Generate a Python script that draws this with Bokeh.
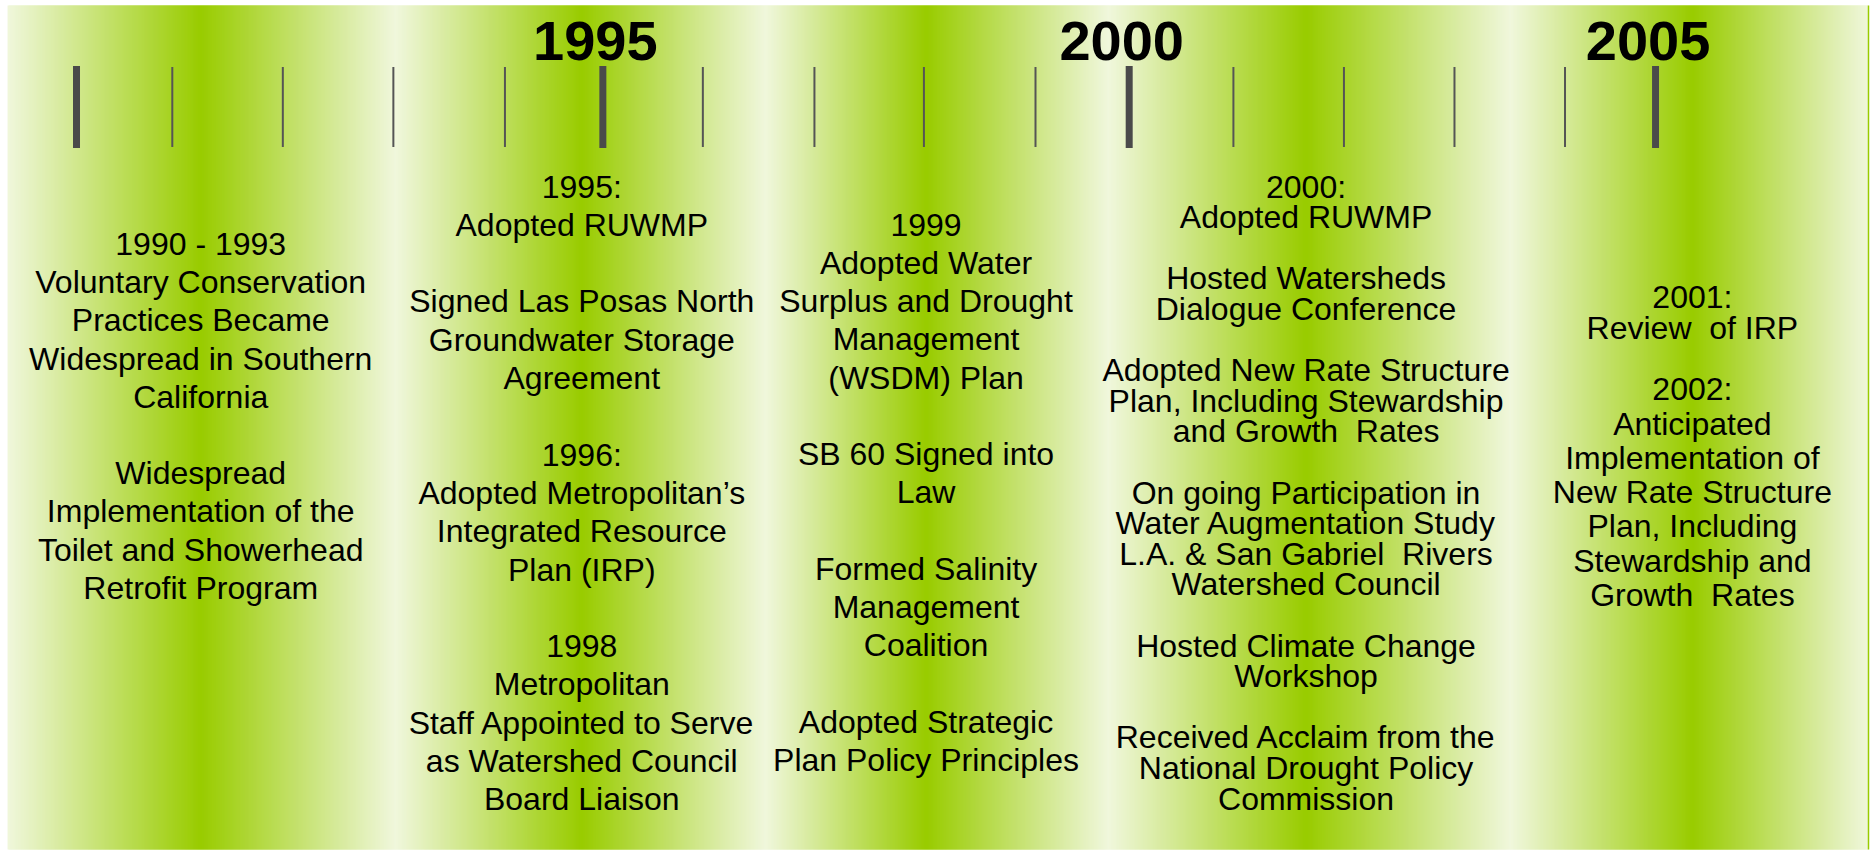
import numpy as np
from bokeh.plotting import figure
from bokeh.models import Range1d, ColumnDataSource
from bokeh.core.properties import value
from bokeh.embed import file_html
from bokeh.resources import INLINE

# ---------------- data ----------------
major_years = [1990, 1995, 2000, 2005]
major_labels = ["1995", "2000", "2005"]          # 1990 tick is unlabeled
labeled_years = [1995, 2000, 2005]
# minor tick marks as drawn between the major years
minor_ticks = [1990.91, 1991.96, 1993.01, 1994.07,
               1995.95, 1997.01, 1998.05, 1999.11,
               2000.99, 2002.04, 2003.09, 2004.14]

block_1990s = ["1990 - 1993", "Voluntary Conservation", "Practices Became",
               "Widespread in Southern", "California", "",
               "Widespread", "Implementation of the", "Toilet and Showerhead",
               "Retrofit Program"]
block_1995 = ["1995:", "Adopted RUWMP", "",
              "Signed Las Posas North", "Groundwater Storage", "Agreement", "",
              "1996:", "Adopted Metropolitan\u2019s", "Integrated Resource", "Plan (IRP)", "",
              "1998", "Metropolitan", "Staff Appointed to Serve",
              "as Watershed Council", "Board Liaison"]
block_1999 = ["1999", "Adopted Water", "Surplus and Drought", "Management",
              "(WSDM) Plan", "",
              "SB 60 Signed into", "Law", "",
              "Formed Salinity", "Management", "Coalition", "",
              "Adopted Strategic", "Plan Policy Principles"]
block_2000 = ["2000:", "Adopted RUWMP", "",
              "Hosted Watersheds", "Dialogue Conference", "",
              "Adopted New Rate Structure", "Plan, Including Stewardship",
              "and Growth \u00a0Rates", "",
              "On going Participation in", "Water Augmentation Study",
              "L.A. & San Gabriel \u00a0Rivers", "Watershed Council", "",
              "Hosted Climate Change", "Workshop", "",
              "Received Acclaim from the", "National Drought Policy", "Commission"]
block_2001 = ["2001:", "Review \u00a0of IRP"]
block_2002 = ["2002:", "Anticipated", "Implementation of", "New Rate Structure",
              "Plan, Including", "Stewardship and", "Growth \u00a0Rates"]

# ---------------- layout (positions / styles) ----------------
W, H = 1870, 852
X0, X1 = 1989.278, 2007.042        # visible year span
PANEL_TOP, PANEL_BOTTOM = 5.0, 849.0

column_edges = [1989.345, 1993.030, 1996.545, 1999.803, 2003.622, 2007.023]
column_centers = [1991.18, 1994.80, 1998.07, 2001.68, 2005.35]
LIGHT = np.array([240, 247, 220], dtype=float)
GREEN = np.array([153, 204, 0], dtype=float)

BODY_PX = 32.0
LABEL_PX = 56.0
BASE_SHIFT = 0.33   # correction of the alphabetic anchor, in font sizes

blocks = [
    (block_1990s, 1991.18, 254.0, 38.2),
    (block_1995, 1994.80, 196.6, 38.3),
    (block_1999, 1998.07, 234.6, 38.25),
    (block_2000, 2001.68, 196.6, 30.6),
    (block_2001, 2005.35, 307.0, 31.0),
    (block_2002, 2005.35, 399.3, 34.3),
]

p = figure(width=W, height=H, output_backend="svg", toolbar_location=None,
           x_range=Range1d(X0, X1), y_range=Range1d(H, 0),
           x_axis_location=None, y_axis_location=None, min_border=0,
           outline_line_color=None, background_fill_color="white",
           border_fill_color="white")
p.grid.visible = False

# ---------------- background: column gradients ----------------
stops_x, stops_c = [], []
for i, e in enumerate(column_edges):
    stops_x.append(e); stops_c.append(LIGHT)
    if i < len(column_centers):
        stops_x.append(column_centers[i]); stops_c.append(GREEN)
stops_c = np.array(stops_c)
step = (X1 - X0) / W
lefts = np.arange(column_edges[0], column_edges[-1] - step * 0.5, step)
mids = lefts + step / 2
cols = []
for m in mids:
    rgb = [np.interp(m, stops_x, stops_c[:, k]) for k in range(3)]
    cols.append("#%02x%02x%02x" % tuple(int(round(v)) for v in rgb))
rights = np.minimum(lefts + 2.2 * step, column_edges[-1])
bg = ColumnDataSource(dict(left=lefts, right=rights,
                           top=[PANEL_TOP] * len(lefts),
                           bottom=[PANEL_BOTTOM] * len(lefts), color=cols))
p.quad(left="left", right="right", top="top", bottom="bottom", source=bg,
       fill_color="color", line_color=None)
# thin green edge on the right side of the panel
p.segment(x0=[column_edges[-1]], x1=[column_edges[-1]], y0=[PANEL_TOP], y1=[PANEL_BOTTOM],
          line_color="#99cc00", line_width=1.5)

# ---------------- ticks ----------------
p.segment(x0=minor_ticks, x1=minor_ticks, y0=[66.5] * len(minor_ticks),
          y1=[146.5] * len(minor_ticks), line_color="#555555", line_width=2)
p.segment(x0=major_years, x1=major_years, y0=[65.5] * 4, y1=[147.5] * 4,
          line_color="#4a4a4a", line_width=7)

lab = ColumnDataSource(dict(x=labeled_years,
                            y=[59.3 - BASE_SHIFT * LABEL_PX] * 3, t=major_labels))
p.text(x="x", y="y", text="t", source=lab, x_offset=-7.5,
       text_font=value("Liberation Sans"), text_font_style="bold",
       text_font_size="%.1fpx" % LABEL_PX, text_align="center",
       text_baseline="alphabetic", text_color="black")

# ---------------- event text ----------------
xs, ys, ts = [], [], []
for lines, cx, y0, dy in blocks:
    for i, line in enumerate(lines):
        if line:
            xs.append(cx); ys.append(y0 + i * dy - BASE_SHIFT * BODY_PX); ts.append(line)
src = ColumnDataSource(dict(x=xs, y=ys, t=ts))
p.text(x="x", y="y", text="t", source=src,
       text_font=value("Liberation Sans"), text_font_size="%.1fpx" % BODY_PX,
       text_align="center", text_baseline="alphabetic", text_color="black")

open("out.html", "w").write(file_html(p, INLINE))
